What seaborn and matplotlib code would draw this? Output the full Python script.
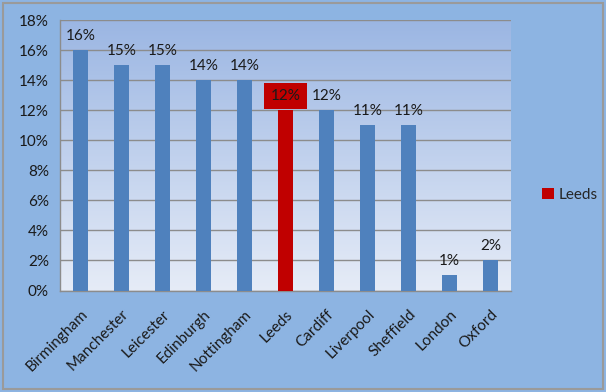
import matplotlib
matplotlib.use("Agg")
import matplotlib.pyplot as plt
import seaborn as sns
import numpy as np
import pandas as pd
from matplotlib.patches import Patch, Rectangle
from matplotlib.colors import LinearSegmentedColormap

cities = ["Birmingham", "Manchester", "Leicester", "Edinburgh", "Nottingham",
          "Leeds", "Cardiff", "Liverpool", "Sheffield", "London", "Oxford"]
values = [16, 15, 15, 14, 14, 12, 12, 11, 11, 1, 2]
highlight = "Leeds"
yticks = [0, 2, 4, 6, 8, 10, 12, 14, 16, 18]

df = pd.DataFrame({"city": cities, "value": values})

sns.set_theme(style="white")
plt.rcParams['font.family'] = ['Lato', 'DejaVu Sans']

fig = plt.figure(figsize=(6.06, 3.92), dpi=100)
fig.patch.set_facecolor("#8DB4E2")
fig.patches.append(Rectangle((0.005, 0.008), 0.99, 0.984, transform=fig.transFigure,
                             fill=False, edgecolor="#9a9a9a", linewidth=1.5))
ax = fig.add_axes([60 / 606, 1 - 290.5 / 392, 451 / 606, 270.5 / 392])

blue = "#4F81BD"
red = "#C00000"
palette = {c: (red if c == highlight else blue) for c in cities}

# gradient background
cmap = LinearSegmentedColormap.from_list("bg", ["#E6ECF7", "#9BB6E3"])
grad = np.linspace(0, 1, 256).reshape(-1, 1)
ax.imshow(grad, cmap=cmap, aspect="auto", origin="lower",
          extent=[-0.5, len(cities) - 0.5, 0, 18], zorder=0)

sns.barplot(data=df, x="city", y="value", hue="city", palette=palette,
            width=0.39, legend=False, ax=ax, zorder=3, saturation=1,
            edgecolor="none", linewidth=0)

ax.set_xlim(-0.5, len(cities) - 0.5)
ax.set_ylim(0, 18)
ax.set_yticks(yticks)
ax.set_yticklabels([f"{t}%" for t in yticks], fontsize=11, color="#1a1a1a")
ax.yaxis.grid(True, color="#8c8c8c", linewidth=1, zorder=1)
ax.set_axisbelow(True)
ax.set_xlabel("")
ax.set_ylabel("")
ax.set_xticks(range(len(cities)))
ax.set_xticklabels(cities, rotation=45, ha="right", rotation_mode="anchor",
                   fontsize=11, color="#1a1a1a")
ax.tick_params(axis="x", length=0, pad=12)
ax.tick_params(axis="y", length=0, pad=8)
# minor ticks at category boundaries
ax.set_xticks(np.arange(-0.5, len(cities), 1), minor=True)
ax.tick_params(axis="x", which="minor", length=4, color="#8c8c8c", width=1)

for s in ["top", "right"]:
    ax.spines[s].set_visible(False)
for s in ["left", "bottom"]:
    ax.spines[s].set_color("#8c8c8c")
    ax.spines[s].set_linewidth(1)

for i, (c, v) in enumerate(zip(cities, values)):
    if c == highlight:
        ax.text(i, v + 0.95, f"{v}%", ha="center", va="center", fontsize=11,
                color="#1a1a1a", zorder=5,
                bbox=dict(boxstyle="square,pad=0.4", facecolor=red, edgecolor="none"))
    else:
        ax.text(i, v + 0.95, f"{v}%", ha="center", va="center", fontsize=11,
                color="#1a1a1a", zorder=5)

handles = [Patch(facecolor=red, edgecolor="none", label=highlight)]
fig.legend(handles=handles, loc="center left", bbox_to_anchor=(0.872, 0.503),
           frameon=False, fontsize=11, handlelength=0.75, handleheight=0.75,
           handletextpad=0.3)

fig.savefig("out.png", dpi=100, facecolor=fig.get_facecolor())
